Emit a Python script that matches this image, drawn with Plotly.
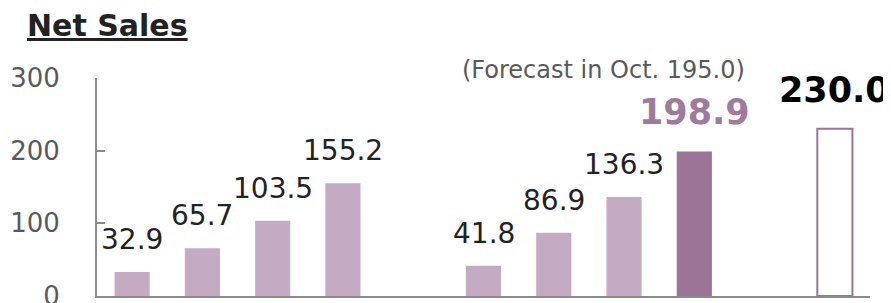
import plotly.graph_objects as go

# ---- data ----
categories = ["FY1 Q1", "FY1 Q2", "FY1 Q3", "FY1 Q4", " ",
              "FY2 Q1", "FY2 Q2", "FY2 Q3", "FY2 Q4", "  ",
              "FY3 Forecast"]
values = [32.9, 65.7, 103.5, 155.2, None,
          41.8, 86.9, 136.3, 198.9, None,
          230.0]
value_labels = ["32.9", "65.7", "103.5", "155.2", "",
                "41.8", "86.9", "136.3", "198.9", "",
                "230.0"]
forecast_note = "(Forecast in Oct. 195.0)"
title_text = "Net Sales"
y_ticks = [0, 100, 200, 300]

# ---- styles ----
LIGHT = "#C5AAC3"
DARK = "#9C7497"
AXIS = "#8C8C8C"
FONT = "DejaVu Sans"

# page body has an 8px default margin, so the figure is sized to fill the rest
W, H = 883, 295
ML, MR, MT, MB = 89, 21, 70, 7
PW, PH = W - ML - MR, H - MT - MB

fill_colors, line_colors, line_widths = [], [], []
for c in categories:
    if c == "FY3 Forecast":
        fill_colors.append("white"); line_colors.append(DARK); line_widths.append(2)
    elif c == "FY2 Q4":
        fill_colors.append(DARK); line_colors.append(DARK); line_widths.append(0)
    else:
        fill_colors.append(LIGHT); line_colors.append(LIGHT); line_widths.append(0)

fig = go.Figure()
fig.add_trace(go.Bar(
    x=categories, y=values, width=0.5,
    marker=dict(color=fill_colors, line=dict(color=line_colors, width=line_widths)),
    hoverinfo="skip", showlegend=False,
))

annotations = []
for c, v, lab in zip(categories, values, value_labels):
    if v is None:
        continue
    if c == "FY2 Q4":
        font = dict(family=FONT, size=35, color="#9E7A9C", weight="bold")
        ys = 17
    elif c == "FY3 Forecast":
        font = dict(family=FONT, size=35, color="#000000", weight="bold")
        ys = 17
    else:
        font = dict(family=FONT, size=28, color="#222222")
        ys = 14
    annotations.append(dict(x=c, y=v, xref="x", yref="y", text=lab, showarrow=False,
                            yanchor="bottom", yshift=ys, font=font))

annotations.append(dict(x=(595 - ML) / PW, y=(H - MB - 61.5) / PH, xref="paper", yref="paper",
                        text=forecast_note, showarrow=False, xanchor="center", yanchor="middle",
                        font=dict(family=FONT, size=24, color="#595959")))
annotations.append(dict(x=(17 - ML) / PW, y=(H - MB - 17.5) / PH, xref="paper", yref="paper",
                        xanchor="left", yanchor="middle",
                        text="<b><u>" + title_text + "</u></b>", showarrow=False,
                        font=dict(family=FONT, size=30, color="#222222")))

fig.update_layout(
    width=W, height=H,
    margin=dict(l=ML, r=MR, t=MT, b=MB, autoexpand=False),
    paper_bgcolor="white", plot_bgcolor="white",
    annotations=annotations,
    font=dict(family=FONT),
    xaxis=dict(type="category", range=[-0.5, 10.5], showline=True, linecolor=AXIS,
               linewidth=2, ticks="", showticklabels=False, showgrid=False,
               zeroline=False, fixedrange=True, automargin=False),
    yaxis=dict(range=[0, 300], tickvals=y_ticks, showline=True, linecolor=AXIS,
               linewidth=2, ticks="inside", ticklen=8, tickwidth=2, tickcolor=AXIS,
               tickfont=dict(family=FONT, size=26, color="#595959"),
               ticklabelstandoff=30, ticklabeloverflow="allow",
               showgrid=False, zeroline=False, fixedrange=True, automargin=False),
)

fig.write_html("out.html")
